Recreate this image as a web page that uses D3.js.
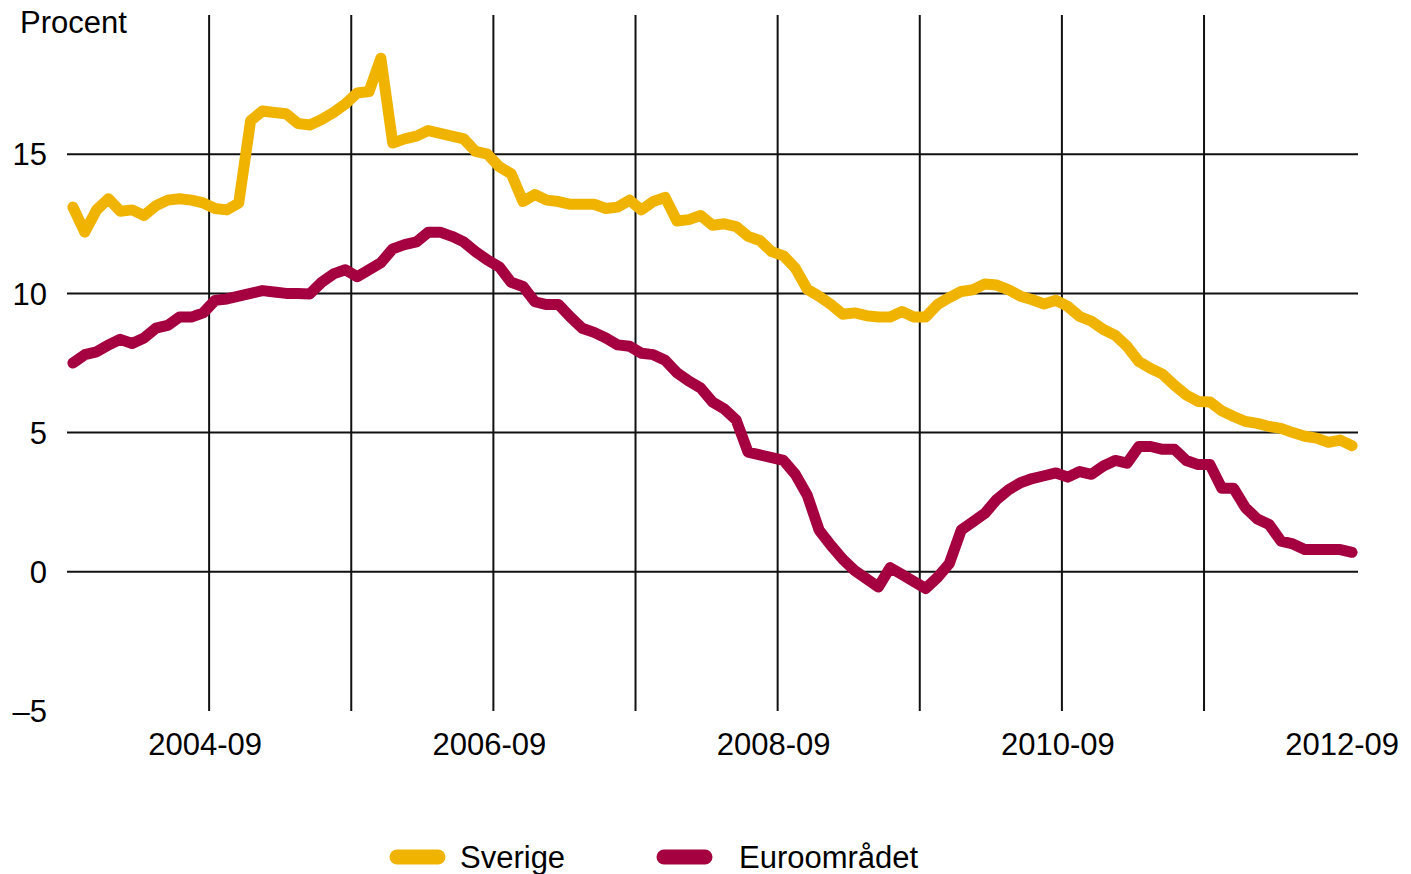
<!DOCTYPE html>
<html>
<head>
<meta charset="utf-8">
<script src="https://cdn.jsdelivr.net/npm/d3@7"></script>
<style>
  body { margin: 0; background: #fff; }
  svg text { font-family: 'Liberation Sans', Arial, sans-serif; fill: #000; }
</style>
</head>
<body>
<div id="chart"></div>
<script>
// monthly categories, 2003-09 .. 2012-09
const months = d3.timeMonth
  .range(new Date(2003, 8, 1), new Date(2012, 9, 1))
  .map(d3.timeFormat('%Y-%m'))

const sverige = [
  13.1, 12.2, 13.0, 13.4, 12.95, 13.0, 12.8, 13.15, 13.35, 13.4, 13.35, 13.25,
  13.05, 13.0, 13.25, 16.2, 16.55, 16.5, 16.45, 16.1, 16.05, 16.25, 16.5, 16.8,
  17.2, 17.25, 18.45, 15.4, 15.55, 15.65, 15.85, 15.75, 15.65, 15.55, 15.1, 15.0,
  14.55, 14.3, 13.3, 13.55, 13.35, 13.3, 13.2, 13.2, 13.2, 13.05, 13.1, 13.35,
  13.0, 13.3, 13.45, 12.6, 12.65, 12.8, 12.45, 12.5, 12.4, 12.05, 11.9, 11.5,
  11.35, 10.9, 10.15, 9.9, 9.6, 9.25, 9.3, 9.2, 9.15, 9.15, 9.35, 9.15,
  9.15, 9.6, 9.85, 10.07, 10.13, 10.34, 10.3, 10.13, 9.9, 9.77, 9.62, 9.75,
  9.53, 9.17, 9.0, 8.7, 8.5, 8.1, 7.55, 7.3, 7.1, 6.7, 6.35, 6.12,
  6.1, 5.78, 5.58, 5.4, 5.33, 5.22, 5.15, 5.0, 4.87, 4.8, 4.65, 4.73,
  4.53
]

const euroomradet = [
  7.5, 7.8, 7.9, 8.15, 8.35, 8.2, 8.4, 8.75, 8.85, 9.15, 9.15, 9.3,
  9.75, 9.8, 9.9, 10.0, 10.1, 10.05, 10.0, 10.0, 9.98, 10.4, 10.7, 10.85,
  10.6, 10.85, 11.1, 11.6, 11.75, 11.85, 12.2, 12.2, 12.05, 11.85, 11.5, 11.2,
  10.95, 10.4, 10.25, 9.7, 9.6, 9.6, 9.15, 8.75, 8.6, 8.4, 8.15, 8.1,
  7.85, 7.8, 7.6, 7.15, 6.85, 6.6, 6.1, 5.85, 5.45, 4.3, 4.2, 4.1,
  4.0, 3.5, 2.75, 1.5, 0.95, 0.45, 0.05, -0.25, -0.55, 0.15, -0.1, -0.35,
  -0.6, -0.2, 0.3, 1.5, 1.8, 2.1, 2.6, 2.95, 3.2, 3.35, 3.45, 3.55,
  3.4, 3.6, 3.5, 3.8, 4.0, 3.9, 4.5, 4.5, 4.4, 4.4, 4.0, 3.85,
  3.85, 3.0, 3.0, 2.3, 1.9, 1.7, 1.1, 1.0, 0.8, 0.8, 0.8, 0.8,
  0.7
]

const yTicks = [-5, 0, 5, 10, 15]
const yGridValues = [0, 5, 10, 15]
const xGridMonths = ['2004-09', '2005-09', '2006-09', '2007-09', '2008-09', '2009-09', '2010-09', '2011-09']
const xLabelMonths = ['2004-09', '2006-09', '2008-09', '2010-09', '2012-09']

const series = [
  { name: 'Sverige', values: sverige, color: '#f0b400' },
  { name: 'Euroområdet', values: euroomradet, color: '#a5003f' }
]

// layout
const width = 1411
const height = 874
const margin = { left: 67, right: 53, top: 15, bottom: 163 }

const svg = d3.select('#chart')
  .append('svg')
  .attr('width', width)
  .attr('height', height)

const x = d3.scaleBand()
  .domain(months)
  .range([margin.left, width - margin.right])
  .padding(0)

const y = d3.scaleLinear()
  .domain([-5, 20])
  .range([height - margin.bottom, margin.top])

const xMid = m => x(m) + x.bandwidth() / 2

// grid
const grid = svg.append('g').attr('class', 'grid')

grid.selectAll('line.h')
  .data(yGridValues)
  .join('line')
  .attr('class', 'h')
  .attr('x1', margin.left)
  .attr('x2', width - margin.right)
  .attr('y1', d => y(d))
  .attr('y2', d => y(d))
  .attr('stroke', '#111')
  .attr('stroke-width', 2)

grid.selectAll('line.v')
  .data(xGridMonths)
  .join('line')
  .attr('class', 'v')
  .attr('x1', d => x(d))
  .attr('x2', d => x(d))
  .attr('y1', y(20))
  .attr('y2', y(-5))
  .attr('stroke', '#111')
  .attr('stroke-width', 2)

// y labels
svg.append('g')
  .selectAll('text')
  .data(yTicks)
  .join('text')
  .attr('x', 47)
  .attr('y', d => y(d))
  .attr('dy', '0.36em')
  .attr('text-anchor', 'end')
  .style('font-size', '31px')
  .text(d => (d < 0 ? '\u2013' + Math.abs(d) : d))

svg.append('text')
  .attr('x', 20)
  .attr('y', 33)
  .style('font-size', '31px')
  .text('Procent')

// x labels, nudged a little left like the original
svg.append('g')
  .selectAll('text')
  .data(xLabelMonths)
  .join('text')
  .attr('x', d => x(d) - 4)
  .attr('y', 755)
  .attr('text-anchor', 'middle')
  .style('font-size', '31px')
  .text(d => d)

// lines
const line = d3.line()
  .x((d, i) => xMid(months[i]))
  .y(d => y(d))

svg.append('g')
  .selectAll('path')
  .data(series)
  .join('path')
  .attr('d', s => line(s.values))
  .attr('fill', 'none')
  .attr('stroke', s => s.color)
  .attr('stroke-width', 11)
  .attr('stroke-linejoin', 'round')
  .attr('stroke-linecap', 'round')

// legend
const legendPos = [397, 664]
const legendTextX = [63, 75]
const legend = svg.append('g')
  .selectAll('g')
  .data(series)
  .join('g')
  .attr('transform', (s, i) => `translate(${legendPos[i]},857)`)

legend.append('line')
  .attr('x1', 0)
  .attr('x2', 41)
  .attr('stroke', s => s.color)
  .attr('stroke-width', 15)
  .attr('stroke-linecap', 'round')

legend.append('text')
  .attr('x', (s, i) => legendTextX[i])
  .attr('dy', '0.36em')
  .style('font-size', '31px')
  .text(s => s.name)
</script>
</body>
</html>
